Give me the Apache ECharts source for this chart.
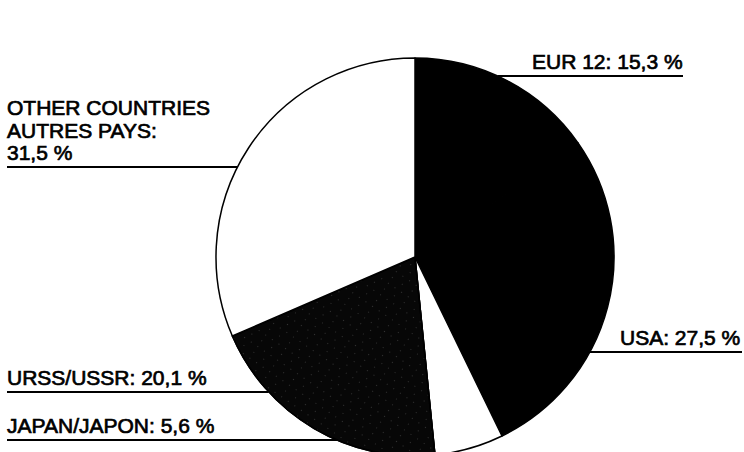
<!DOCTYPE html>
<html><head><meta charset="utf-8">
<script src="https://cdn.jsdelivr.net/npm/echarts@6/dist/echarts.min.js"></script>
<style>html,body{margin:0;padding:0;background:#fff}#c{width:744px;height:452px}</style>
</head><body><div id="c"></div>
<script>
// ---- data ----
const categories = ['EUR 12', 'USA', 'JAPAN/JAPON', 'URSS/USSR', 'OTHER COUNTRIES\nAUTRES PAYS'];
const shares = [15.3, 27.5, 5.6, 20.1, 31.5];
const labelNames = ['EUR 12', 'USA', 'JAPAN/JAPON', 'URSS/USSR', 'OTHER COUNTRIES\nAUTRES PAYS'];

// ---- layout / style ----
const CX = 415, CY = 257, R = 199;
function edgeX(y, side) { return CX + side * Math.sqrt(Math.max(0, R * R - (y - CY) * (y - CY))); }
const labelPos = [
  { textX: 532, lineY: 76,  x0: () => edgeX(76, 1),   x1: () => 683 },
  { textX: 620, lineY: 352, x0: () => edgeX(352, 1),  x1: () => 742 },
  { textX: 7,   lineY: 440, x0: () => 7,              x1: () => 470 },
  { textX: 7,   lineY: 392, x0: () => 7,              x1: () => edgeX(392, -1) },
  { textX: 7,   lineY: 167, x0: () => 7,              x1: () => edgeX(167, -1) }
];
const fills = ['#000000', '#000000', '#ffffff', '#070707', '#ffffff'];

function fmt(v) { return v.toFixed(1).replace('.', ',') + ' %'; }

const data = categories.map((c, i) => {
  const item = { name: c, value: shares[i], itemStyle: { color: fills[i] } };
  if (i === 3) {
    item.itemStyle.decal = {
      symbol: 'rect', symbolSize: 0.7, color: 'rgba(255,255,255,0.5)',
      dashArrayX: [[1, 11], [1, 7]], dashArrayY: [1, 6], rotation: 0.6
    };
  }
  return item;
});

const chart = echarts.init(document.getElementById('c'), null, { renderer: 'svg' });
chart.setOption({
  backgroundColor: '#ffffff',
  animation: false,
  series: [{
    type: 'pie',
    center: [CX, CY],
    radius: R,
    startAngle: 90,
    clockwise: true,
    avoidLabelOverlap: false,
    data: data,
    itemStyle: { borderColor: '#000', borderWidth: 1.5 },
    emphasis: { disabled: true },
    label: {
      show: true,
      position: 'outside',
      color: '#000',
      textBorderColor: '#000',
      textBorderWidth: 0.7,
      fontFamily: 'Liberation Sans, Arial, sans-serif',
      fontSize: 21,
      lineHeight: 22.5,
      align: 'left',
      formatter: p => labelNames[p.dataIndex] + ': ' + (p.dataIndex === 4 ? '\n' : '') + fmt(p.value)
    },
    labelLine: { show: true, lineStyle: { color: '#000', width: 2 } },
    labelLayout: function (p) {
      const L = labelPos[p.dataIndex];
      const y = L.lineY;
      const a = L.x0(), b = L.x1();
      return {
        x: L.textX, y: y - 3, align: 'left', verticalAlign: 'bottom',
        labelLinePoints: [[a, y], [(a + b) / 2, y], [b, y]]
      };
    }
  }]
});
</script></body></html>
